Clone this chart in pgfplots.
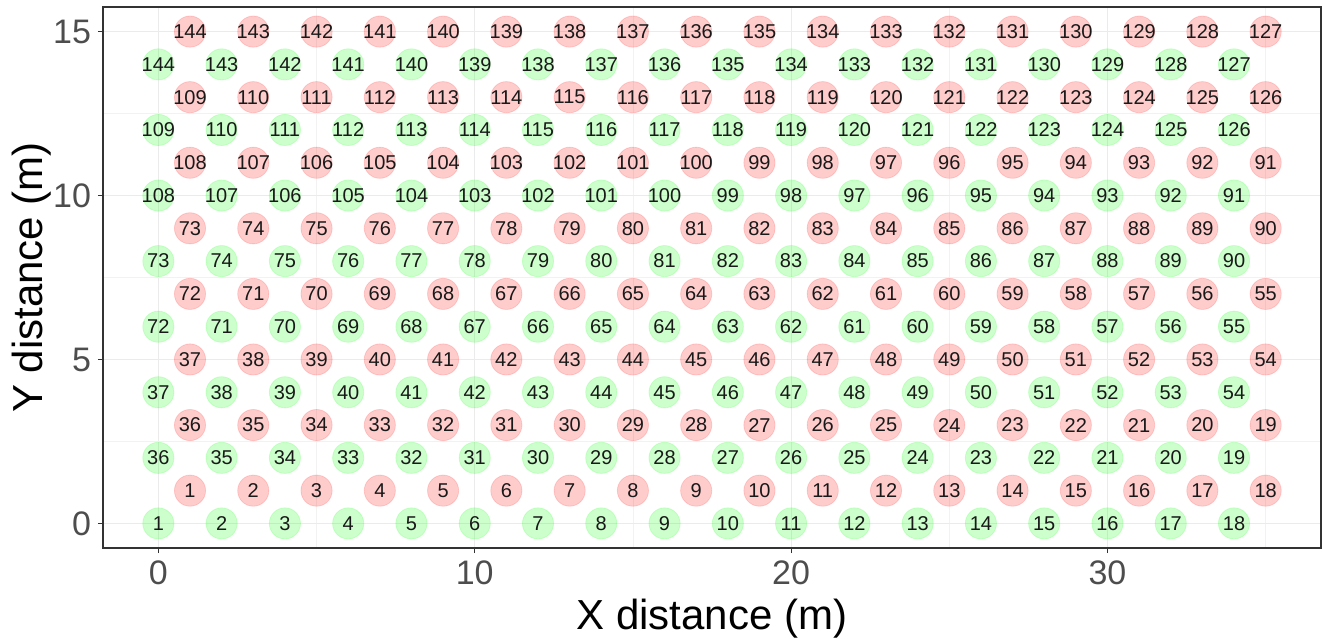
\documentclass[border=0pt]{standalone}
\usepackage{pgfplots}
\usepackage{pgfplotstable}
\pgfplotsset{compat=1.18}
\usepackage{fontspec}
\setmainfont{Liberation Sans}

\definecolor{gridmajor}{RGB}{235,235,235}
\definecolor{gridminor}{RGB}{242,242,242}
\definecolor{frame}{RGB}{51,51,51}
\definecolor{ticktext}{RGB}{77,77,77}
\definecolor{labeltext}{RGB}{25,25,25}

% tree positions: x, y, tree number
\pgfplotstableread[row sep=\\]{
x y n\\
0 0 1\\ 2 0 2\\ 4 0 3\\ 6 0 4\\ 8 0 5\\ 10 0 6\\ 12 0 7\\ 14 0 8\\ 16 0 9\\ 18 0 10\\ 20 0 11\\ 22 0 12\\ 24 0 13\\ 26 0 14\\ 28 0 15\\ 30 0 16\\ 32 0 17\\ 34 0 18\\
0 2 36\\ 2 2 35\\ 4 2 34\\ 6 2 33\\ 8 2 32\\ 10 2 31\\ 12 2 30\\ 14 2 29\\ 16 2 28\\ 18 2 27\\ 20 2 26\\ 22 2 25\\ 24 2 24\\ 26 2 23\\ 28 2 22\\ 30 2 21\\ 32 2 20\\ 34 2 19\\
0 4 37\\ 2 4 38\\ 4 4 39\\ 6 4 40\\ 8 4 41\\ 10 4 42\\ 12 4 43\\ 14 4 44\\ 16 4 45\\ 18 4 46\\ 20 4 47\\ 22 4 48\\ 24 4 49\\ 26 4 50\\ 28 4 51\\ 30 4 52\\ 32 4 53\\ 34 4 54\\
0 6 72\\ 2 6 71\\ 4 6 70\\ 6 6 69\\ 8 6 68\\ 10 6 67\\ 12 6 66\\ 14 6 65\\ 16 6 64\\ 18 6 63\\ 20 6 62\\ 22 6 61\\ 24 6 60\\ 26 6 59\\ 28 6 58\\ 30 6 57\\ 32 6 56\\ 34 6 55\\
0 8 73\\ 2 8 74\\ 4 8 75\\ 6 8 76\\ 8 8 77\\ 10 8 78\\ 12 8 79\\ 14 8 80\\ 16 8 81\\ 18 8 82\\ 20 8 83\\ 22 8 84\\ 24 8 85\\ 26 8 86\\ 28 8 87\\ 30 8 88\\ 32 8 89\\ 34 8 90\\
0 10 108\\ 2 10 107\\ 4 10 106\\ 6 10 105\\ 8 10 104\\ 10 10 103\\ 12 10 102\\ 14 10 101\\ 16 10 100\\ 18 10 99\\ 20 10 98\\ 22 10 97\\ 24 10 96\\ 26 10 95\\ 28 10 94\\ 30 10 93\\ 32 10 92\\ 34 10 91\\
0 12 109\\ 2 12 110\\ 4 12 111\\ 6 12 112\\ 8 12 113\\ 10 12 114\\ 12 12 115\\ 14 12 116\\ 16 12 117\\ 18 12 118\\ 20 12 119\\ 22 12 120\\ 24 12 121\\ 26 12 122\\ 28 12 123\\ 30 12 124\\ 32 12 125\\ 34 12 126\\
0 14 144\\ 2 14 143\\ 4 14 142\\ 6 14 141\\ 8 14 140\\ 10 14 139\\ 12 14 138\\ 14 14 137\\ 16 14 136\\ 18 14 135\\ 20 14 134\\ 22 14 133\\ 24 14 132\\ 26 14 131\\ 28 14 130\\ 30 14 129\\ 32 14 128\\ 34 14 127\\
}\greentrees

\pgfplotstableread[row sep=\\]{
x y n\\
1 1 1\\ 3 1 2\\ 5 1 3\\ 7 1 4\\ 9 1 5\\ 11 1 6\\ 13 1 7\\ 15 1 8\\ 17 1 9\\ 19 1 10\\ 21 1 11\\ 23 1 12\\ 25 1 13\\ 27 1 14\\ 29 1 15\\ 31 1 16\\ 33 1 17\\ 35 1 18\\
1 3 36\\ 3 3 35\\ 5 3 34\\ 7 3 33\\ 9 3 32\\ 11 3 31\\ 13 3 30\\ 15 3 29\\ 17 3 28\\ 19 3 27\\ 21 3 26\\ 23 3 25\\ 25 3 24\\ 27 3 23\\ 29 3 22\\ 31 3 21\\ 33 3 20\\ 35 3 19\\
1 5 37\\ 3 5 38\\ 5 5 39\\ 7 5 40\\ 9 5 41\\ 11 5 42\\ 13 5 43\\ 15 5 44\\ 17 5 45\\ 19 5 46\\ 21 5 47\\ 23 5 48\\ 25 5 49\\ 27 5 50\\ 29 5 51\\ 31 5 52\\ 33 5 53\\ 35 5 54\\
1 7 72\\ 3 7 71\\ 5 7 70\\ 7 7 69\\ 9 7 68\\ 11 7 67\\ 13 7 66\\ 15 7 65\\ 17 7 64\\ 19 7 63\\ 21 7 62\\ 23 7 61\\ 25 7 60\\ 27 7 59\\ 29 7 58\\ 31 7 57\\ 33 7 56\\ 35 7 55\\
1 9 73\\ 3 9 74\\ 5 9 75\\ 7 9 76\\ 9 9 77\\ 11 9 78\\ 13 9 79\\ 15 9 80\\ 17 9 81\\ 19 9 82\\ 21 9 83\\ 23 9 84\\ 25 9 85\\ 27 9 86\\ 29 9 87\\ 31 9 88\\ 33 9 89\\ 35 9 90\\
1 11 108\\ 3 11 107\\ 5 11 106\\ 7 11 105\\ 9 11 104\\ 11 11 103\\ 13 11 102\\ 15 11 101\\ 17 11 100\\ 19 11 99\\ 21 11 98\\ 23 11 97\\ 25 11 96\\ 27 11 95\\ 29 11 94\\ 31 11 93\\ 33 11 92\\ 35 11 91\\
1 13 109\\ 3 13 110\\ 5 13 111\\ 7 13 112\\ 9 13 113\\ 11 13 114\\ 13 13 115\\ 15 13 116\\ 17 13 117\\ 19 13 118\\ 21 13 119\\ 23 13 120\\ 25 13 121\\ 27 13 122\\ 29 13 123\\ 31 13 124\\ 33 13 125\\ 35 13 126\\
1 15 144\\ 3 15 143\\ 5 15 142\\ 7 15 141\\ 9 15 140\\ 11 15 139\\ 13 15 138\\ 15 15 137\\ 17 15 136\\ 19 15 135\\ 21 15 134\\ 23 15 133\\ 25 15 132\\ 27 15 131\\ 29 15 130\\ 31 15 129\\ 33 15 128\\ 35 15 127\\
}\redtrees

\begin{document}
\begin{tikzpicture}
\begin{axis}[
  scale only axis,
  width=609pt, height=270.5pt,
  xmin=-1.75, xmax=36.75,
  ymin=-0.75, ymax=15.75,
  xtick={0,10,20,30}, ytick={0,5,10,15},
  minor xtick={5,15,25,35}, minor ytick={2.5,7.5,12.5},
  grid=both,
  major grid style={draw=gridmajor, line width=0.55pt},
  minor grid style={draw=gridminor, line width=0.3pt},
  axis line style={draw=frame, line width=0.8pt},
  tick pos=lower, tick align=outside,
  major tick length=2.6pt, minor tick length=0pt,
  tick style={draw=frame, line width=0.55pt},
  /pgf/number format/assume math mode=true,
  ticklabel style={font=\fontsize{17}{20}\selectfont, text=ticktext, inner sep=0pt},
  xticklabel style={anchor=north, yshift=-3.5pt},
  yticklabel style={anchor=east, xshift=-3.2pt},
  xlabel={X distance (m)},
  ylabel={Y distance (m)},
  label style={font=\fontsize{21}{25}\selectfont, text=black},
  xlabel style={at={([yshift=-35.5pt]rel axis cs:0.5,0)}, anchor=center},
  ylabel style={at={([xshift=-35.5pt]rel axis cs:0,0.5)}, anchor=center},
  point meta=explicit symbolic,
  nodes near coords,
  every node near coord/.append style={anchor=center, font=\fontsize{10}{12}\selectfont,
    text=labeltext, opacity=1, text opacity=1, fill opacity=1, draw opacity=1},
]
\addplot[only marks, mark=*, mark size=7.8pt,
  mark options={fill=green, fill opacity=0.2, draw=green, draw opacity=0.15, line width=0.4pt}]
  table[x=x, y=y, meta=n] {\greentrees};
\addplot[only marks, mark=*, mark size=7.8pt,
  mark options={fill=red, fill opacity=0.2, draw=red, draw opacity=0.15, line width=0.4pt}]
  table[x=x, y=y, meta=n] {\redtrees};
\coordinate (sw) at (rel axis cs:0,0);
\coordinate (ne) at (rel axis cs:1,1);
\end{axis}
\pgfresetboundingbox
\path ([shift={(-51.5pt,-46pt)}]sw) rectangle ([shift={(1pt,3.5pt)}]ne);
\end{tikzpicture}
\end{document}
